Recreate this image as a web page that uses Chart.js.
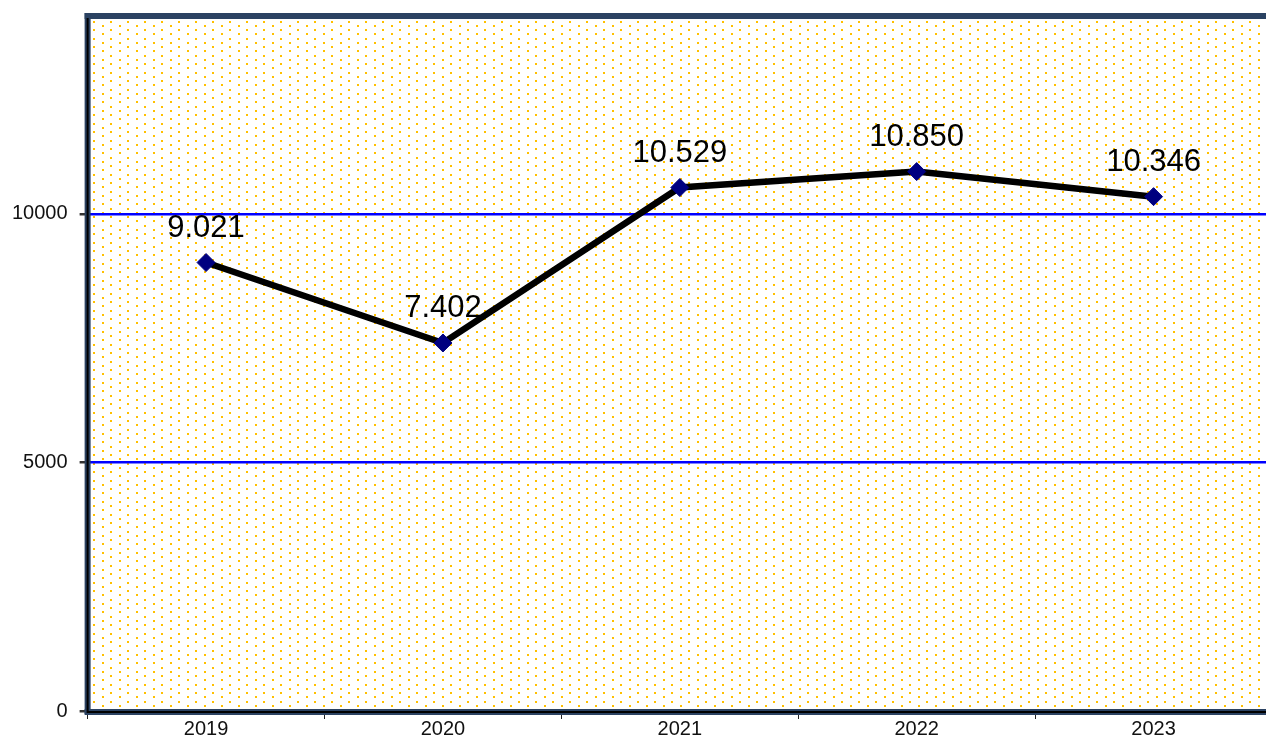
<!DOCTYPE html>
<html>
<head>
<meta charset="utf-8">
<script src="https://cdn.jsdelivr.net/npm/chart.js@4/dist/chart.umd.min.js"></script>
<style>
  html, body { margin: 0; padding: 0; background: #fff; overflow: hidden; }
  #wrap { width: 1282px; height: 748px; position: relative; top: -9px; }
</style>
</head>
<body>
<div id="wrap"><canvas id="trend-chart"></canvas></div>
<script>
const years = ['2019', '2020', '2021', '2022', '2023']
const totals = [9021, 7402, 10529, 10850, 10346]
const yTicks = [0, 5000, 10000]
const yMax = 14000

const FRAME = '#2b4262'

// dotted fill for the plot area
const makeDots = (ctx) => {
  const tile = document.createElement('canvas')
  tile.width = 17
  tile.height = 17
  const t = tile.getContext('2d')
  t.fillStyle = '#ffc000'
  ;[[0, 0], [0, 8], [8, 4], [8, 13]].forEach(([x, y]) => t.fillRect(x, y, 2, 2))
  return ctx.createPattern(tile, 'repeat')
}

const plotBackground = {
  id: 'plotBackground',
  beforeDraw(chart) {
    const { ctx, chartArea: a } = chart
    ctx.save()
    ctx.fillStyle = makeDots(ctx)
    ctx.fillRect(a.left, a.top, a.right - a.left, a.bottom - a.top)
    ctx.restore()
  }
}

// heavy frame on top, left and bottom of the plot
const plotFrame = {
  id: 'plotFrame',
  afterDatasetsDraw(chart) {
    const { ctx, chartArea: a } = chart
    ctx.save()
    ctx.fillStyle = FRAME
    ctx.fillRect(a.left - 3, a.top - 2, chart.width, 6)
    ctx.fillRect(a.left - 3, a.top - 2, 6, a.bottom - a.top + 5)
    ctx.fillRect(a.left - 3, a.bottom - 2, chart.width, 6)
    ctx.fillStyle = '#000'
    ctx.fillRect(a.left - 1, a.top + 3, 2, a.bottom - a.top - 3)
    ctx.fillRect(a.left - 1, a.bottom, chart.width, 2)
    ctx.restore()
  }
}

const formatThousands = (v) => String(v).replace(/\B(?=(\d{3})+(?!\d))/g, '.')

const valueLabels = {
  id: 'valueLabels',
  afterDraw(chart) {
    const { ctx } = chart
    const meta = chart.getDatasetMeta(0)
    ctx.save()
    ctx.font = '31px "Liberation Sans", Arial, sans-serif'
    ctx.fillStyle = '#000'
    ctx.textAlign = 'center'
    ctx.textBaseline = 'alphabetic'
    meta.data.forEach((pt, i) => {
      ctx.fillText(formatThousands(totals[i]), pt.x, pt.y - 26)
    })
    ctx.restore()
  }
}

const trendChart = () => {
  const options = {
    type: 'line',
    data: {
      labels: years,
      datasets: [{
        data: totals,
        borderColor: '#000',
        borderWidth: 6.5,
        tension: 0,
        pointStyle: 'rectRot',
        pointRadius: 9,
        pointHoverRadius: 9,
        pointBackgroundColor: '#000080',
        pointBorderColor: '#000080',
        pointBorderWidth: 1
      }]
    },
    options: {
      responsive: true,
      maintainAspectRatio: false,
      animation: false,
      layout: { padding: { left: 0, top: 0, right: 0, bottom: 0 } },
      plugins: {
        legend: { display: false },
        tooltip: { enabled: false }
      },
      scales: {
        x: {
          offset: true,
          border: { display: false },
          grid: {
            offset: true,
            drawOnChartArea: false,
            drawTicks: true,
            tickLength: 8,
            tickColor: '#222',
            lineWidth: 1
          },
          ticks: {
            padding: 0,
            color: '#111',
            font: { family: '"Liberation Sans", Arial, sans-serif', size: 20, lineHeight: 1 }
          }
        },
        y: {
          min: 0,
          max: yMax,
          border: { display: false },
          afterBuildTicks: (scale) => {
            scale.ticks = yTicks.map(v => ({ value: v }))
          },
          grid: {
            color: (c) => c.tick && c.tick.value === 0 ? 'rgba(0,0,0,0)' : '#0000ff',
            lineWidth: 2.5,
            drawTicks: true,
            tickLength: 8,
            tickColor: '#333'
          },
          ticks: {
            padding: 12,
            color: '#111',
            callback: (v) => String(v),
            font: { family: '"Liberation Sans", Arial, sans-serif', size: 20 }
          }
        }
      }
    },
    plugins: [plotBackground, plotFrame, valueLabels]
  }
  const canvas = document.getElementById('trend-chart').getContext('2d')
  new Chart(canvas, options)
}

window.onload = () => {
  trendChart()
}
</script>
</body>
</html>
